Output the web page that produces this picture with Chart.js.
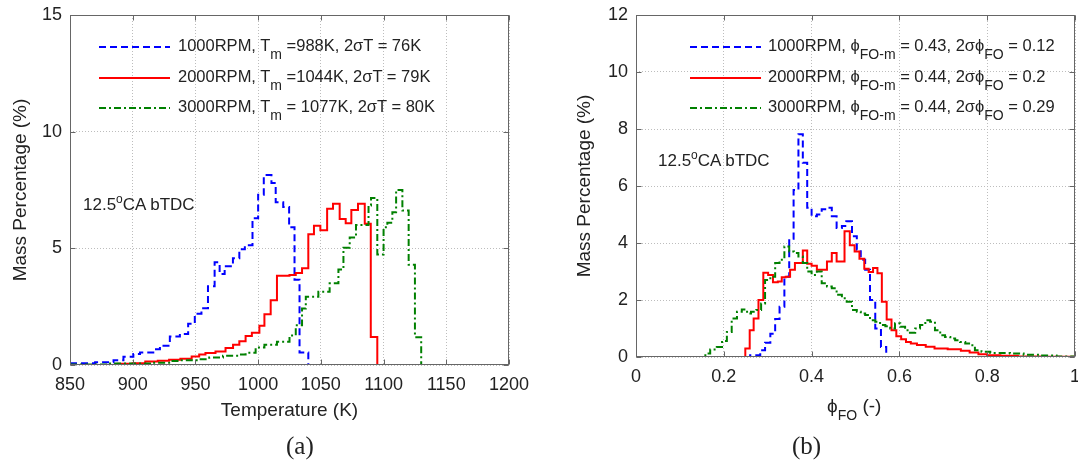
<!DOCTYPE html>
<html><head><meta charset="utf-8">
<script src="https://cdn.jsdelivr.net/npm/chart.js@4.4.0/dist/chart.umd.min.js"></script>
<style>
html,body{margin:0;padding:0;background:#fff;overflow:hidden;}
#wrap{position:relative;width:1078px;height:462px;font-family:"Liberation Sans",Arial,sans-serif;color:#222;}
canvas{position:absolute;top:0;}
.t{position:absolute;white-space:nowrap;font-size:17px;line-height:20px;}
.lg{font-size:16.5px;}
.sub{font-size:14px;position:relative;top:8px;}
.sup{font-size:12px;position:relative;top:-7px;}
.cap{position:absolute;white-space:nowrap;font-family:"Liberation Serif","Times New Roman",serif;font-size:25px;line-height:28px;}
#ov{position:absolute;left:0;top:0;}
</style></head>
<body>
<div id="wrap">
<canvas id="c1" width="540" height="462" style="left:0"></canvas>
<canvas id="c2" width="538" height="462" style="left:540px"></canvas>
<svg id="ov" width="1078" height="462">
  <line x1="99" y1="47" x2="170" y2="47" stroke="#0000ff" stroke-width="2" stroke-dasharray="7,4"/>
  <line x1="99" y1="78" x2="170" y2="78" stroke="#ff0000" stroke-width="2"/>
  <line x1="99" y1="108" x2="170" y2="108" stroke="#008000" stroke-width="2" stroke-dasharray="7,3,2,3"/>
  <line x1="690" y1="47" x2="761" y2="47" stroke="#0000ff" stroke-width="2" stroke-dasharray="7,4"/>
  <line x1="690" y1="78" x2="761" y2="78" stroke="#ff0000" stroke-width="2"/>
  <line x1="690" y1="108" x2="761" y2="108" stroke="#008000" stroke-width="2" stroke-dasharray="7,3,2,3"/>
</svg>
<div class="t lg" style="left:178px;top:35px">1000RPM, T<span class="sub">m</span> =988K, 2σT = 76K</div>
<div class="t lg" style="left:178px;top:66px">2000RPM, T<span class="sub">m</span> =1044K, 2σT = 79K</div>
<div class="t lg" style="left:178px;top:96px">3000RPM, T<span class="sub">m</span> = 1077K, 2σT = 80K</div>
<div class="t lg" style="left:768px;top:35px">1000RPM, ϕ<span class="sub">FO-m</span> = 0.43, 2σϕ<span class="sub">FO</span> = 0.12</div>
<div class="t lg" style="left:768px;top:66px">2000RPM, ϕ<span class="sub">FO-m</span> = 0.44, 2σϕ<span class="sub">FO</span> = 0.2</div>
<div class="t lg" style="left:768px;top:96px">3000RPM, ϕ<span class="sub">FO-m</span> = 0.44, 2σϕ<span class="sub">FO</span> = 0.29</div>
<div class="t" style="left:83px;top:195px">12.5<span class="sup">o</span>CA bTDC</div>
<div class="t" style="left:658px;top:151px">12.5<span class="sup">o</span>CA bTDC</div>
<div class="t" style="left:827px;top:395px;font-size:19px;line-height:22px">ϕ<span class="sub">FO</span> (-)</div>
<div class="cap" style="left:286px;top:432px">(a)</div>
<div class="cap" style="left:792px;top:432px">(b)</div>
</div>
<script>
// ---- Panel (a): temperature distributions (step starts, K) and mass percentages (%)
const tempBins1000 = [850,870,884.7,892.6,900.5,905.8,916.4,921.7,929.6,937.6,944.2,949.5,954.8,960,965.3,969.3,973.3,979.9,985,989.4,995.5,1000,1004.5,1010.6,1014,1020,1024.7,1029,1033,1040,1200];
const tempMass1000 = [0.08,0.12,0.2,0.35,0.47,0.54,0.68,0.83,1.22,1.33,1.77,2.2,2.43,3.38,4.4,3.9,4.23,4.57,4.96,5.13,6.29,7.3,8.14,7.8,6.98,6.77,5.9,3.65,0.54,0,0];
const tempBins2000 = [850,888,900,910,920,929,938,947,953,958,966,974,980,985,990,995,1001,1005,1010,1015,1025,1030,1035,1040,1044.5,1049.6,1055,1059.7,1065,1069.8,1074.3,1079.6,1085,1089.8,1095,1200];
const tempMass2000 = [0,0.05,0.08,0.15,0.18,0.22,0.27,0.36,0.45,0.51,0.58,0.73,0.87,1.02,1.24,1.38,1.68,2.17,2.78,3.83,3.86,3.94,4.15,5.6,5.97,5.78,6.7,6.91,6.26,6.07,6.64,6.91,6.05,1.2,0,0];
const tempBins3000 = [850,880,916,930,937,951,961,972,985,990,998,1005,1015,1025,1030,1035,1038,1048,1057,1064,1068,1073,1078,1088,1090,1095,1100,1103,1107,1110,1115,1120,1125,1130];
const tempMass3000 = [0.02,0.06,0.1,0.17,0.2,0.25,0.32,0.4,0.45,0.52,0.75,0.87,1.0,1.26,1.7,2.42,2.93,3.14,3.5,4.09,5.03,5.46,6.0,6.84,7.16,4.74,5.9,6.1,6.55,7.5,6.62,4.3,1.19,0];
const tempTicksX = [850,900,950,1000,1050,1100,1150,1200];
const tempTicksY = [0,5,10,15];

// ---- Panel (b): phi_FO distributions (step starts) and mass percentages (%)
const phiBins1000 = [0,0.26,0.283,0.294,0.306,0.317,0.327,0.338,0.349,0.359,0.37,0.38,0.39,0.40,0.412,0.423,0.435,0.446,0.457,0.469,0.479,0.492,0.503,0.512,0.522,0.533,0.545,0.558,0.57,1.0];
const phiMass1000 = [0,0.06,0.24,0.5,0.82,1.33,1.76,2.82,4.15,5.86,7.82,6.82,5.24,4.94,5.0,5.18,5.24,4.94,4.53,4.6,4.76,4.24,3.76,3.41,3.06,2.0,1.0,0.35,0,0];
const phiBins2000 = [0,0.249,0.259,0.268,0.279,0.29,0.301,0.312,0.323,0.332,0.341,0.351,0.362,0.38,0.39,0.40,0.412,0.423,0.435,0.446,0.457,0.475,0.487,0.498,0.509,0.52,0.53,0.54,0.55,0.56,0.571,0.582,0.593,0.604,0.615,0.626,0.64,0.66,0.68,0.71,0.74,0.76,0.78,0.80,0.83,0.87,0.92,1.0];
const phiMass2000 = [0,0.3,0.94,1.35,2.0,2.96,2.88,2.62,2.65,2.8,2.82,3.06,3.3,3.74,3.27,3.2,3.06,3.06,3.35,3.65,3.35,4.41,3.92,3.7,3.45,3.1,2.98,3.12,2.94,1.94,1.32,0.94,0.73,0.62,0.53,0.47,0.42,0.36,0.3,0.27,0.22,0.16,0.1,0.06,0.04,0.02,0.01,0];
const phiBins3000 = [0,0.158,0.169,0.184,0.196,0.207,0.218,0.23,0.241,0.253,0.262,0.274,0.285,0.294,0.306,0.317,0.327,0.338,0.349,0.36,0.37,0.38,0.39,0.40,0.412,0.423,0.435,0.446,0.457,0.469,0.48,0.492,0.503,0.512,0.522,0.533,0.545,0.556,0.568,0.579,0.59,0.602,0.613,0.624,0.636,0.647,0.659,0.67,0.681,0.693,0.704,0.716,0.727,0.738,0.75,0.761,0.772,0.787,0.807,0.852,0.883,0.92,0.958,1.0];
const phiMass3000 = [0,0.12,0.26,0.35,0.56,0.88,1.35,1.59,1.67,1.53,1.59,1.65,1.88,2.7,2.82,3.3,3.41,3.88,3.7,3.65,3.53,3.3,3.0,2.88,3.0,2.59,2.47,2.41,2.18,2.06,1.94,1.65,1.59,1.53,1.47,1.29,1.24,1.12,1.08,1.0,1.18,1.06,0.94,0.85,1.0,1.12,1.29,1.24,0.94,0.76,0.7,0.65,0.59,0.53,0.47,0.41,0.24,0.18,0.14,0.12,0.08,0.05,0.02,0];
const phiTicksX = [0,0.2,0.4,0.6,0.8,1];
const phiTicksY = [0,2,4,6,8,10,12];

const FONT = '"Liberation Sans", Arial, sans-serif';
Chart.defaults.font.family = FONT;
Chart.defaults.color = '#222';

const pts = (xs, ys) => xs.map((x, i) => ({x: x, y: ys[i]}));
const series = (xs, ys, color, dash, order) => ({
  data: pts(xs, ys), borderColor: color, borderWidth: 2, borderDash: dash,
  pointRadius: 0, stepped: 'before', fill: false, order: order, tension: 0
});
const plain = v => String(Math.round(v * 1000) / 1000);

const framePlugin = {
  id: 'frame',
  afterDraw(chart) {
    const {ctx, chartArea: a, scales} = chart;
    ctx.save();
    ctx.setLineDash([]);
    ctx.strokeStyle = '#666';
    ctx.lineWidth = 1;
    const l = Math.round(a.left) + 0.5, r = Math.round(a.right) - 0.5;
    const t = Math.round(a.top) + 0.5, b = Math.round(a.bottom) - 0.5;
    ctx.strokeRect(l, t, r - l, b - t);
    ctx.beginPath();
    scales.x.ticks.forEach(tk => {
      const x = Math.round(scales.x.getPixelForValue(tk.value)) + 0.5;
      ctx.moveTo(x, b); ctx.lineTo(x, b - 5);
      ctx.moveTo(x, t); ctx.lineTo(x, t + 5);
    });
    scales.y.ticks.forEach(tk => {
      const y = Math.round(scales.y.getPixelForValue(tk.value)) + 0.5;
      ctx.moveTo(l, y); ctx.lineTo(l + 5, y);
      ctx.moveTo(r, y); ctx.lineTo(r - 5, y);
    });
    ctx.stroke();
    ctx.restore();
  }
};

function makeChart(id, cfg) {
  const tickFont = {size: 18, family: FONT};
  const gridOpts = {color: '#bdbdbd', lineWidth: 1, drawTicks: false};
  return new Chart(document.getElementById(id), {
    type: 'line',
    data: {datasets: cfg.datasets},
    options: {
      responsive: false, animation: false, devicePixelRatio: 1,
      layout: {padding: {left: 0, top: 15, right: cfg.padRight, bottom: 0}},
      plugins: {legend: {display: false}, tooltip: {enabled: false}},
      scales: {
        x: {
          type: 'linear', min: cfg.xMin, max: cfg.xMax,
          afterBuildTicks: s => { s.ticks = cfg.xTicks.map(v => ({value: v})); },
          ticks: {padding: 9, font: tickFont, color: '#222', maxRotation: 0, autoSkip: false, callback: plain},
          grid: gridOpts, border: {display: false, dash: [1, 2]},
          title: cfg.xTitle ? {display: true, text: cfg.xTitle, font: {size: 19, family: FONT}, color: '#222', padding: {top: 0, bottom: 40}} : {display: false},
          afterFit: s => { s.height = cfg.xHeight; s.paddingLeft = 0; s.paddingRight = 0; }
        },
        y: {
          type: 'linear', min: cfg.yMin, max: cfg.yMax,
          afterBuildTicks: s => { s.ticks = cfg.yTicks.map(v => ({value: v})); },
          ticks: {padding: 8, font: tickFont, color: '#222', callback: plain},
          grid: gridOpts, border: {display: false, dash: [1, 2]},
          title: {display: true, text: 'Mass Percentage (%)', font: {size: 19, family: FONT}, color: '#222', padding: {top: cfg.yTitlePad, bottom: 0}},
          afterFit: s => { s.width = cfg.yWidth; s.paddingTop = 0; s.paddingBottom = 0; }
        }
      }
    },
    plugins: [framePlugin]
  });
}

makeChart('c1', {
  datasets: [
    series(tempBins1000, tempMass1000, '#0000ff', [7, 4], 3),
    series(tempBins2000, tempMass2000, '#ff0000', [], 2),
    series(tempBins3000, tempMass3000, '#008000', [7, 3, 2, 3], 1)
  ],
  xMin: 850, xMax: 1200, xTicks: tempTicksX,
  yMin: 0, yMax: 15, yTicks: tempTicksY,
  xTitle: 'Temperature (K)', xHeight: 97, yWidth: 70, yTitlePad: 9, padRight: 31
});

makeChart('c2', {
  datasets: [
    series(phiBins1000, phiMass1000, '#0000ff', [7, 4], 3),
    series(phiBins2000, phiMass2000, '#ff0000', [], 2),
    series(phiBins3000, phiMass3000, '#008000', [7, 3, 2, 3], 1)
  ],
  xMin: 0, xMax: 1, xTicks: phiTicksX,
  yMin: 0, yMax: 12, yTicks: phiTicksY,
  xTitle: null, xHeight: 105, yWidth: 96, yTitlePad: 33, padRight: 3
});
</script>
</body></html>
